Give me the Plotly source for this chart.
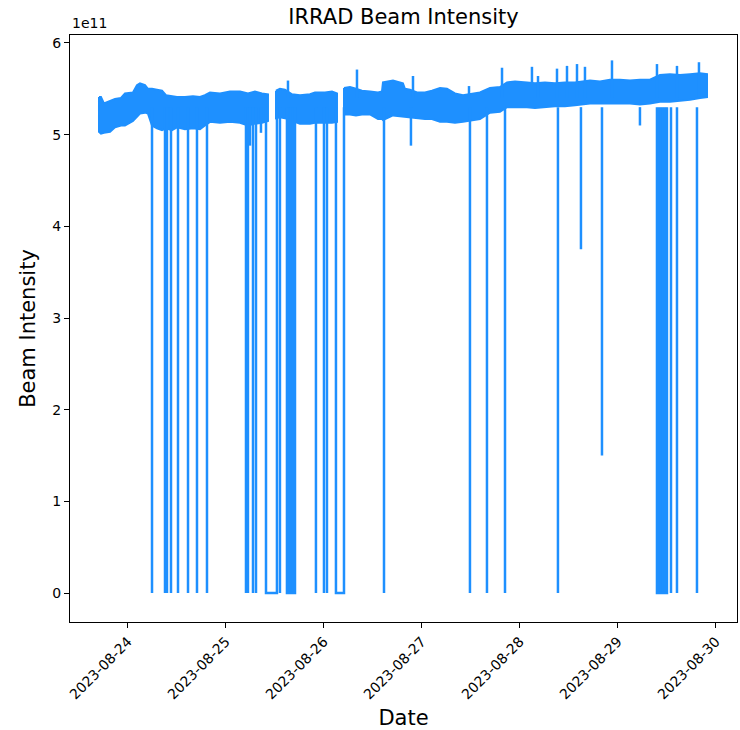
import plotly.graph_objects as go

SCALE = 1e11
COLOR = "#1E90FF"

# ---- band envelope (values in units of 1e11), three continuous running periods ----
seg1_t = ["2023-08-23 16:54", "2023-08-23 17:23", "2023-08-23 18:07", "2023-08-23 19:36",
          "2023-08-23 20:49", "2023-08-23 22:17", "2023-08-23 23:16", "2023-08-24 01:13",
          "2023-08-24 02:12", "2023-08-24 02:56", "2023-08-24 04:10", "2023-08-24 04:54",
          "2023-08-24 05:53", "2023-08-24 07:06", "2023-08-24 08:20", "2023-08-24 09:18",
          "2023-08-24 10:47", "2023-08-24 12:00", "2023-08-24 13:58", "2023-08-24 15:55",
          "2023-08-24 17:38", "2023-08-24 18:51", "2023-08-24 20:05", "2023-08-24 22:32",
          "2023-08-25 00:59", "2023-08-25 03:26", "2023-08-25 05:23", "2023-08-25 07:06",
          "2023-08-25 08:49", "2023-08-25 10:17"]
seg1_hi = [5.41, 5.41, 5.34, 5.37, 5.39, 5.40, 5.45, 5.46, 5.54, 5.56, 5.54, 5.50, 5.50, 5.49, 5.48,
           5.43, 5.42, 5.41, 5.41, 5.42, 5.41, 5.43, 5.46, 5.45, 5.47, 5.47, 5.45, 5.47, 5.45, 5.44]
seg1_lo = [5.03, 5.01, 5.02, 5.03, 5.08, 5.10, 5.10, 5.15, 5.20, 5.23, 5.24, 5.23, 5.10, 5.07, 5.05,
           5.07, 5.05, 5.08, 5.06, 5.07, 5.06, 5.10, 5.14, 5.13, 5.14, 5.13, 5.10, 5.12, 5.13, 5.15]

seg2_t = ["2023-08-25 12:15", "2023-08-25 13:13", "2023-08-25 14:27", "2023-08-25 15:11",
          "2023-08-25 16:10", "2023-08-25 18:07", "2023-08-25 20:34", "2023-08-25 21:48",
          "2023-08-26 00:15", "2023-08-26 01:58", "2023-08-26 03:11"]
seg2_hi = [5.48, 5.50, 5.49, 5.47, 5.44, 5.43, 5.44, 5.46, 5.46, 5.47, 5.45]
seg2_lo = [5.18, 5.19, 5.18, 5.17, 5.15, 5.12, 5.12, 5.13, 5.13, 5.13, 5.14]

seg3_t = ["2023-08-26 04:54", "2023-08-26 06:22", "2023-08-26 07:50", "2023-08-26 09:18",
          "2023-08-26 11:16", "2023-08-26 13:14", "2023-08-26 14:12", "2023-08-26 14:27",
          "2023-08-26 16:54", "2023-08-26 18:37", "2023-08-26 19:20", "2023-08-26 19:50",
          "2023-08-26 21:04", "2023-08-26 22:47",
          "2023-08-27 00:44", "2023-08-27 02:27", "2023-08-27 04:25", "2023-08-27 06:07",
          "2023-08-27 08:05", "2023-08-27 10:02", "2023-08-27 11:45", "2023-08-27 14:12",
          "2023-08-27 16:39", "2023-08-27 19:06", "2023-08-27 20:49", "2023-08-27 22:47",
          "2023-08-28 01:43", "2023-08-28 03:40", "2023-08-28 06:07", "2023-08-28 08:34",
          "2023-08-28 11:01", "2023-08-28 13:28", "2023-08-28 17:09", "2023-08-28 19:36",
          "2023-08-28 22:02", "2023-08-29 00:29", "2023-08-29 02:56", "2023-08-29 05:23",
          "2023-08-29 07:50", "2023-08-29 10:17", "2023-08-29 12:44", "2023-08-29 15:11",
          "2023-08-29 17:38", "2023-08-29 20:05", "2023-08-29 21:48"]
seg3_hi = [5.51, 5.52, 5.50, 5.48, 5.47, 5.46, 5.47, 5.57, 5.59, 5.57, 5.56, 5.50, 5.49, 5.46,
           5.46, 5.48, 5.51, 5.50, 5.45, 5.43, 5.44, 5.46, 5.51, 5.52, 5.57, 5.58, 5.57, 5.56,
           5.57, 5.56, 5.57, 5.57, 5.59, 5.58, 5.60, 5.60, 5.59, 5.60, 5.60, 5.65, 5.66, 5.65,
           5.66, 5.67, 5.66]
seg3_lo = [5.22, 5.22, 5.21, 5.22, 5.22, 5.17, 5.17, 5.16, 5.21, 5.20, 5.20, 5.20, 5.19, 5.18,
           5.17, 5.17, 5.14, 5.14, 5.13, 5.14, 5.15, 5.17, 5.24, 5.25, 5.30, 5.30, 5.30, 5.29,
           5.30, 5.31, 5.31, 5.32, 5.34, 5.34, 5.34, 5.34, 5.34, 5.33, 5.34, 5.36, 5.36, 5.37,
           5.38, 5.40, 5.41]

# ---- beam drops to zero (single readings) ----
zero_dip_t = ["2023-08-24 05:53", "2023-08-24 09:04", "2023-08-24 09:33", "2023-08-24 10:32",
              "2023-08-24 12:15", "2023-08-24 14:42", "2023-08-24 16:54", "2023-08-24 19:21",
              "2023-08-25 04:54", "2023-08-25 05:23", "2023-08-25 06:37", "2023-08-25 07:21",
              "2023-08-25 13:13", "2023-08-25 15:25", "2023-08-25 15:55", "2023-08-25 16:25",
              "2023-08-25 22:02", "2023-08-26 00:00", "2023-08-26 00:44", "2023-08-26 14:42",
              "2023-08-27 11:45", "2023-08-27 15:55", "2023-08-27 20:20", "2023-08-28 09:18",
              "2023-08-29 10:03", "2023-08-29 10:32", "2023-08-29 11:01", "2023-08-29 11:31",
              "2023-08-29 12:59", "2023-08-29 14:27", "2023-08-29 19:21"]

# ---- periods with the beam at zero (start, end) ----
zero_block_start = ["2023-08-25 09:48", "2023-08-25 14:56", "2023-08-26 02:56", "2023-08-29 09:33"]
zero_block_end = ["2023-08-25 12:29", "2023-08-25 16:54", "2023-08-26 04:54", "2023-08-29 12:00"]

# ---- partial drops ----
partial_dip_t = ["2023-08-25 05:53", "2023-08-25 08:34", "2023-08-26 21:18",
                 "2023-08-28 14:56", "2023-08-28 20:05", "2023-08-29 05:23"]
partial_dip_v = [4.88, 5.02, 4.88, 3.75, 1.50, 5.10]

# ---- upward spikes ----
spike_t = ["2023-08-25 15:11", "2023-08-26 08:05", "2023-08-26 21:48", "2023-08-27 11:31",
           "2023-08-27 19:36", "2023-08-28 02:56", "2023-08-28 04:25", "2023-08-28 09:04",
           "2023-08-28 11:31", "2023-08-28 13:58", "2023-08-28 15:55", "2023-08-28 22:32",
           "2023-08-29 09:33", "2023-08-29 14:27", "2023-08-29 19:50"]
spike_v = [5.59, 5.71, 5.64, 5.53, 5.73, 5.74, 5.64, 5.72, 5.75, 5.77, 5.74, 5.81, 5.77, 5.75, 5.79]

BASE_LOW = 5.30   # level inside the band from which drops start
BASE_HIGH = 5.40  # level inside the band from which spikes start

x_ticks = ["2023-08-24", "2023-08-25", "2023-08-26", "2023-08-27", "2023-08-28", "2023-08-29", "2023-08-30"]
y_ticks = [0, 1, 2, 3, 4, 5, 6]

# ---------- build traces ----------
band_x, band_y = [], []
for t, hi, lo in [(seg1_t, seg1_hi, seg1_lo), (seg2_t, seg2_hi, seg2_lo), (seg3_t, seg3_hi, seg3_lo)]:
    band_x += t + t[::-1] + [t[0], None]
    band_y += [v * SCALE for v in hi] + [v * SCALE for v in lo[::-1]] + [hi[0] * SCALE, None]

line_x, line_y = [], []
for t in zero_dip_t:
    line_x += [t, t, None]
    line_y += [BASE_LOW * SCALE, 0, None]
for s, e in zip(zero_block_start, zero_block_end):
    line_x += [s, s, e, e, None]
    line_y += [BASE_LOW * SCALE, 0, 0, BASE_LOW * SCALE, None]
for t, v in zip(partial_dip_t, partial_dip_v):
    line_x += [t, t, None]
    line_y += [BASE_LOW * SCALE, v * SCALE, None]
for t, v in zip(spike_t, spike_v):
    line_x += [t, t, None]
    line_y += [BASE_HIGH * SCALE, v * SCALE, None]

fig = go.Figure()
fig.add_trace(go.Scatter(x=band_x, y=band_y, mode="lines", fill="toself", fillcolor=COLOR,
                         line=dict(color=COLOR, width=2), hoverinfo="skip", connectgaps=False))
fig.add_trace(go.Scatter(x=line_x, y=line_y, mode="lines",
                         line=dict(color=COLOR, width=2.5), hoverinfo="skip", connectgaps=False))

FONT = "DejaVu Sans"
fig.update_layout(
    width=740, height=730,
    margin=dict(l=70, r=3, t=35, b=108),
    paper_bgcolor="white", plot_bgcolor="white",
    showlegend=False,
    font=dict(family=FONT, size=14, color="black"),
    title=dict(text="IRRAD Beam Intensity", x=(70 + 737) / 2 / 740, xanchor="center",
               y=1 - 17 / 730, yanchor="middle", yref="container",
               font=dict(family=FONT, size=21, color="black")),
)
fig.update_xaxes(
    type="date",
    range=["2023-08-23 09:48", "2023-08-30 05:09"],
    tickvals=x_ticks, ticktext=x_ticks, tickangle=-45,
    ticks="outside", ticklen=5, tickcolor="black", tickwidth=1,
    showline=True, linecolor="black", linewidth=1, mirror=True,
    showgrid=False, zeroline=False,
    tickfont=dict(family=FONT, size=14, color="black"),
    title=dict(text="Date", font=dict(family=FONT, size=21, color="black"), standoff=8),
)
fig.update_yaxes(
    range=[-0.316 * SCALE, 6.087 * SCALE],
    tickvals=[v * SCALE for v in y_ticks], ticktext=[str(v) for v in y_ticks],
    ticks="outside", ticklen=5, tickcolor="black", tickwidth=1,
    showline=True, linecolor="black", linewidth=1, mirror=True,
    showgrid=False, zeroline=False,
    tickfont=dict(family=FONT, size=14, color="black"),
    title=dict(text="Beam Intensity", font=dict(family=FONT, size=21, color="black"), standoff=10),
)
fig.add_annotation(text="1e11", xref="paper", yref="paper", x=0, y=1, xanchor="left",
                   yanchor="bottom", yshift=2, showarrow=False,
                   font=dict(family=FONT, size=14, color="black"))

fig.write_html("out.html")
